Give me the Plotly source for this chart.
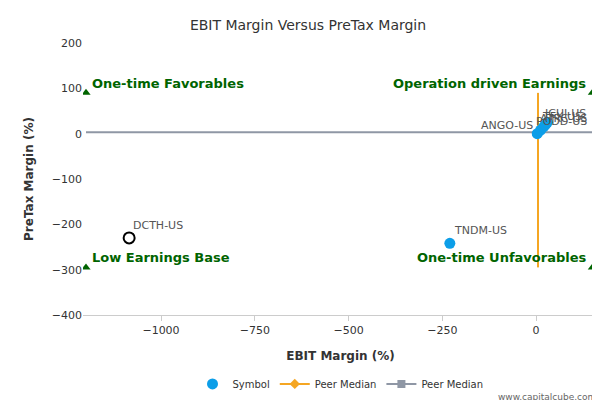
import plotly.graph_objects as go

names = ["ANGO-US", "PODD-US", "ATRC-US", "TFX-US", "ICUI-US", "TNDM-US"]
ebit = [3, 12, 20, 25, 30, -230]
pretax = [0, 8, 15, 20, 25, -242]
dcth_x, dcth_y = [-1085], [-230]
quad_x = [-1200, 150, -1200, 150]
quad_y = [90, 90, -295, -295]
quad_text = ["One-time Favorables", "Operation driven Earnings", "Low Earnings Base", "One-time Unfavorables"]
median_x = 5
median_y = 3

fig = go.Figure()
fig.add_trace(go.Scatter(x=[-1200, 150], y=[median_y, median_y], mode="lines", line=dict(color="#8f97a5", width=2), showlegend=False, hoverinfo="skip"))
fig.add_trace(go.Scatter(x=[median_x, median_x], y=[-295, 90], mode="lines", line=dict(color="#f5a623", width=2), showlegend=False, hoverinfo="skip"))
fig.add_trace(go.Scatter(x=quad_x, y=quad_y, mode="markers", marker=dict(symbol="triangle-up", color="#006400", size=8), showlegend=False))
fig.add_trace(go.Scatter(x=ebit, y=pretax, mode="markers", marker=dict(color="#0c9ee8", size=11), name="Symbol"))
fig.add_trace(go.Scatter(x=dcth_x, y=dcth_y, mode="markers", marker=dict(color="white", size=11, line=dict(color="black", width=2)), showlegend=False))
fig.add_trace(go.Scatter(x=[None], y=[None], mode="lines+markers", line=dict(color="#f5a623", width=2), marker=dict(symbol="diamond", size=8), name="Peer Median"))
fig.add_trace(go.Scatter(x=[None], y=[None], mode="lines+markers", line=dict(color="#8f97a5", width=2), marker=dict(symbol="square", size=8), name="Peer Median"))

ann = []
lbl = dict(font=dict(size=11, color="#555"), showarrow=False)
ann.append(dict(x=ebit[0], y=pretax[0], text=names[0], xanchor="right", yanchor="bottom", xshift=-2, **lbl))
for i in range(1, 5):
    ann.append(dict(x=ebit[i], y=pretax[i], text=names[i], xanchor="left", yanchor="bottom", xshift=-8 + i, **lbl))
ann.append(dict(x=ebit[5], y=pretax[5], text=names[5], xanchor="left", yanchor="bottom", xshift=2, yshift=4, **lbl))
ann.append(dict(x=dcth_x[0], y=dcth_y[0], text="DCTH-US", xanchor="left", yanchor="bottom", xshift=2, yshift=4, **lbl))
qf = dict(font=dict(size=13, color="#006400", family="DejaVu Sans"), showarrow=False)
ann.append(dict(x=quad_x[0], y=quad_y[0], text="<b>"+quad_text[0]+"</b>", xanchor="left", yanchor="bottom", xshift=4, **qf))
ann.append(dict(x=quad_x[1], y=quad_y[1], text="<b>"+quad_text[1]+"</b>", xanchor="right", yanchor="bottom", xshift=-4, **qf))
ann.append(dict(x=quad_x[2], y=quad_y[2], text="<b>"+quad_text[2]+"</b>", xanchor="left", yanchor="bottom", xshift=4, **qf))
ann.append(dict(x=quad_x[3], y=quad_y[3], text="<b>"+quad_text[3]+"</b>", xanchor="right", yanchor="bottom", xshift=-4, **qf))
ann.append(dict(x=1.0, y=-0.3, xref="paper", yref="paper", yanchor="middle", xanchor="right", text="www.capitalcube.com", showarrow=False, font=dict(size=9, color="#666")))

fig.update_layout(
    width=600, height=400, plot_bgcolor="white", paper_bgcolor="white",
    font=dict(family="DejaVu Sans", size=11, color="#333"),
    title=dict(text="EBIT Margin Versus PreTax Margin", x=0.5, y=0.97, font=dict(size=14)),
    margin=dict(l=75, r=10, t=35, b=90),
    xaxis=dict(title=dict(text="<b>EBIT Margin (%)</b>", font=dict(size=12)), range=[-1208, 165], tickvals=[-1000, -750, -500, -250, 0], showgrid=False, zeroline=False, showline=True, linecolor="#ccc", ticks="outside", tickcolor="#ccc"),
    yaxis=dict(title=dict(text="<b>PreTax Margin (%)</b>", font=dict(size=12)), range=[-400, 200], dtick=100, showgrid=False, zeroline=False),
    legend=dict(orientation="h", x=0.5, xanchor="center", y=-0.2, font=dict(size=10)),
    annotations=ann,
)
fig.write_html("out.html")
